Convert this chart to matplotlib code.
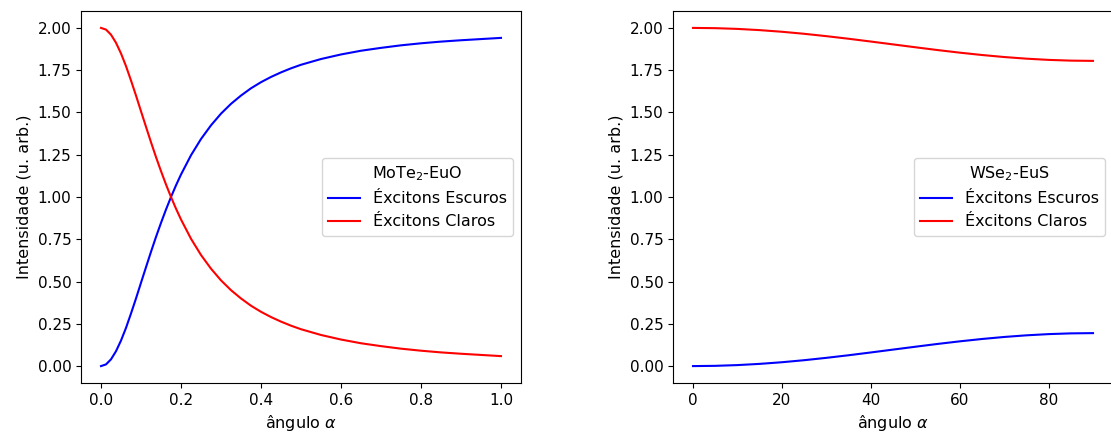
import matplotlib
matplotlib.use("Agg")
import matplotlib.pyplot as plt
import numpy as np

# Left panel: MoTe2-EuO
x_left = [0.0, 0.0125, 0.025, 0.0375, 0.05, 0.0625, 0.075, 0.0875, 0.1, 0.1125, 0.125, 0.1375, 0.15,
          0.1625, 0.175, 0.1875, 0.2, 0.225, 0.25, 0.275, 0.3, 0.325, 0.35, 0.375, 0.4, 0.425, 0.45,
          0.475, 0.5, 0.55, 0.6, 0.65, 0.7, 0.75, 0.8, 0.85, 0.9, 0.95, 1.0]
dark_left = [0.0, 0.010, 0.040, 0.088, 0.151, 0.226, 0.311, 0.400, 0.493, 0.585, 0.676, 0.764, 0.847,
             0.926, 1.0, 1.069, 1.133, 1.247, 1.343, 1.424, 1.493, 1.551, 1.600, 1.643, 1.679, 1.710, 1.737,
             1.761, 1.782, 1.816, 1.843, 1.865, 1.882, 1.897, 1.909, 1.919, 1.927, 1.934, 1.941]
bright_left = [2.0 - v for v in dark_left]

# Right panel: WSe2-EuS
x_right = [0, 5, 10, 15, 20, 25, 30, 35, 40, 45, 50, 55, 60, 65, 70, 75, 80, 85, 90]
dark_right = [0.0, 0.0015, 0.0059, 0.0131, 0.0228, 0.0348, 0.0488, 0.0641, 0.0806, 0.0975, 0.1144,
              0.1309, 0.1463, 0.1602, 0.1722, 0.1819, 0.1891, 0.1935, 0.195]
bright_right = [2.0 - v for v in dark_right]

labels = ["Éxcitons Escuros", "Éxcitons Claros"]
titles = ["MoTe$_2$-EuO", "WSe$_2$-EuS"]

fs = 11.5
fig = plt.figure(figsize=(11.11, 4.36), dpi=100)
ax1 = fig.add_axes([81/1111, 53/436, 440/1111, 372/436])
ax2 = fig.add_axes([673/1111, 53/436, 440/1111, 372/436])

for ax, x, d, b, t in [(ax1, x_left, dark_left, bright_left, titles[0]),
                       (ax2, x_right, dark_right, bright_right, titles[1])]:
    ax.plot(x, d, color="blue", lw=1.5, label=labels[0])
    ax.plot(x, b, color="red", lw=1.5, label=labels[1])
    ax.set_yticks(np.arange(0, 2.01, 0.25))
    ax.tick_params(labelsize=11)
    ax.set_xlabel(r"ângulo $\alpha$", fontsize=fs)
    ax.set_ylabel("Intensidade (u. arb.)", fontsize=fs)
    leg = ax.legend(title=t, loc="center right", fontsize=fs, title_fontsize=fs)

fig.savefig("out.png", dpi=100)
